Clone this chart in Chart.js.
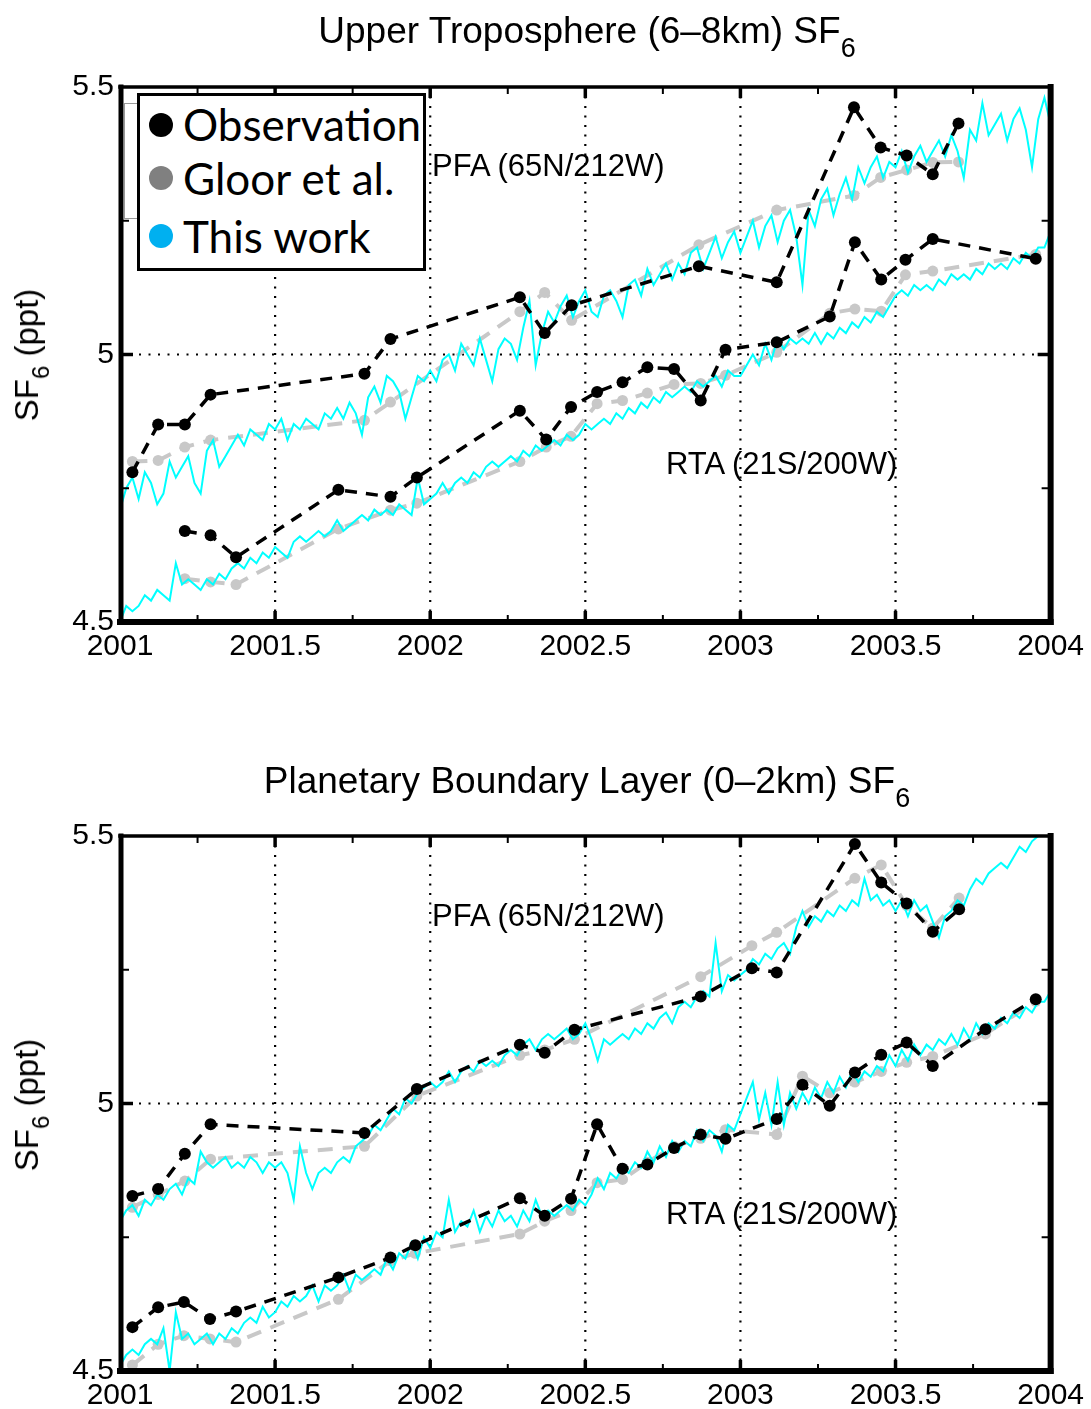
<!DOCTYPE html>
<html>
<head>
<meta charset="utf-8">
<script src="https://cdn.jsdelivr.net/npm/chart.js@4.4.1/dist/chart.umd.min.js"></script>
<style>
  html, body { margin: 0; padding: 0; background: #fff; }
  #page { position: relative; width: 1091px; height: 1409px; overflow: hidden;
          font-family: "Liberation Sans", Arial, sans-serif; color: #000; }
  .panel { position: absolute; left: 0; width: 1091px; height: 660px; }
  .title { position: absolute; transform: translateX(-50%); white-space: nowrap;
           font-size: 37px; line-height: 37px; }
  .title .sub { position: relative; top: 14px; font-size: 27px; }
  .ylab { position: absolute; white-space: nowrap; font-size: 33px; line-height: 33px;
          transform: translate(-50%, -50%) rotate(-90deg); }
  .ylab .sub { position: relative; top: 11px; font-size: 24px; }
  .note { position: absolute; white-space: nowrap; font-size: 31px; line-height: 31px; }
  #ghost { position: absolute; left: 124px; top: 103px; width: 30px; height: 114px;
           border: 1.5px solid #999; background: #fff; }
  #legend { position: absolute; left: 137px; top: 93px; width: 289px; height: 178px;
            box-sizing: border-box; border: 3px solid #000; background: #fff;
            font-family: Lato, "Open Sans", sans-serif; font-size: 44px; }
  #legend .dot { position: absolute; left: 9px; width: 24px; height: 24px; border-radius: 50%; }
  #legend .lab { position: absolute; left: 43px; height: 44px; line-height: 44px; white-space: nowrap; }
</style>
</head>
<body>
<div id="page">
  <div class="panel" style="top:0"><canvas id="upperChart" width="1091" height="660"></canvas></div>
  <div class="panel" style="top:749px"><canvas id="pblChart" width="1091" height="660"></canvas></div>

  <div class="title" style="left:587px; top:12px">Upper Troposphere (6–8km) SF<span class="sub">6</span></div>
  <div class="title" style="left:587px; top:762px">Planetary Boundary Layer (0–2km) SF<span class="sub">6</span></div>

  <div class="ylab" style="left:28px; top:355px">SF<span class="sub">6</span> (ppt)</div>
  <div class="ylab" style="left:28px; top:1105px">SF<span class="sub">6</span> (ppt)</div>

  <div class="note" style="left:432px; top:150px">PFA (65N/212W)</div>
  <div class="note" style="left:666px; top:448px">RTA (21S/200W)</div>
  <div class="note" style="left:432px; top:900px">PFA (65N/212W)</div>
  <div class="note" style="left:666px; top:1198px">RTA (21S/200W)</div>

  <div id="ghost"></div>
  <div id="legend">
    <div class="dot" style="top:17px; background:#000"></div>
    <div class="lab" style="top:6px">Observation</div>
    <div class="dot" style="top:70px; background:#808080"></div>
    <div class="lab" style="top:60px">Gloor et al.</div>
    <div class="dot" style="top:128px; background:#00b0f0"></div>
    <div class="lab" style="top:118px">This work</div>
  </div>
</div>

<script>
// axis ticks
const xTicks = [2001, 2001.5, 2002, 2002.5, 2003, 2003.5, 2004];
const xMinorTicks = [2001.25, 2001.75, 2002.25, 2002.75, 2003.25, 2003.75];
const yTicks = [4.5, 5, 5.5];
const yMinorTicks = [4.75, 5.25];

// ---- Upper troposphere, PFA ----
const utPfaObsT = [2001.04, 2001.123, 2001.209, 2001.292, 2001.788, 2001.872, 2002.289, 2002.369, 2002.456, 2002.866, 2003.117, 2003.366, 2003.452, 2003.536, 2003.62, 2003.703];
const utPfaObsV = [4.780, 4.869, 4.869, 4.925, 4.964, 5.029, 5.107, 5.040, 5.092, 5.165, 5.135, 5.462, 5.387, 5.372, 5.337, 5.432];
const utPfaGloorT = [2001.04, 2001.123, 2001.209, 2001.292, 2001.788, 2001.872, 2002.289, 2002.369, 2002.456, 2002.866, 2003.117, 2003.366, 2003.452, 2003.536, 2003.62, 2003.703];
const utPfaGloorV = [4.800, 4.802, 4.827, 4.840, 4.877, 4.911, 5.080, 5.116, 5.064, 5.205, 5.270, 5.297, 5.331, 5.345, 5.359, 5.360];

// ---- Upper troposphere, RTA ----
const utRtaObsT = [2001.209, 2001.292, 2001.374, 2001.704, 2001.872, 2001.957, 2002.289, 2002.374, 2002.454, 2002.538, 2002.62, 2002.70, 2002.786, 2002.872, 2002.952, 2003.117, 2003.288, 2003.369, 2003.454, 2003.532, 2003.62, 2003.952];
const utRtaObsV = [4.670, 4.662, 4.621, 4.747, 4.734, 4.770, 4.895, 4.841, 4.902, 4.930, 4.948, 4.976, 4.973, 4.914, 5.009, 5.023, 5.071, 5.210, 5.140, 5.177, 5.216, 5.179];
const utRtaGloorT = [2001.209, 2001.292, 2001.374, 2001.704, 2001.872, 2001.957, 2002.289, 2002.374, 2002.454, 2002.538, 2002.62, 2002.70, 2002.786, 2002.872, 2002.952, 2003.117, 2003.288, 2003.369, 2003.454, 2003.532, 2003.62, 2003.952];
const utRtaGloorV = [4.581, 4.575, 4.570, 4.674, 4.709, 4.722, 4.800, 4.827, 4.847, 4.908, 4.914, 4.928, 4.944, 4.946, 4.961, 5.004, 5.077, 5.085, 5.081, 5.149, 5.156, 5.187];

// ---- Boundary layer, PFA ----
const pblPfaObsT = [2001.04, 2001.123, 2001.209, 2001.292, 2001.788, 2001.957, 2002.289, 2002.369, 2002.465, 2002.872, 2003.037, 2003.117, 2003.369, 2003.454, 2003.536, 2003.62, 2003.705];
const pblPfaObsV = [4.827, 4.840, 4.906, 4.961, 4.945, 5.027, 5.110, 5.095, 5.138, 5.200, 5.253, 5.245, 5.485, 5.413, 5.374, 5.321, 5.363];
const pblPfaGloorT = [2001.04, 2001.123, 2001.209, 2001.292, 2001.788, 2001.957, 2002.289, 2002.369, 2002.465, 2002.872, 2003.037, 2003.117, 2003.369, 2003.454, 2003.536, 2003.62, 2003.705];
const pblPfaGloorV = [4.806, 4.830, 4.855, 4.896, 4.920, 5.014, 5.090, 5.100, 5.120, 5.237, 5.295, 5.320, 5.421, 5.446, 5.370, 5.328, 5.384];

// ---- Boundary layer, RTA ----
const pblRtaObsT = [2001.04, 2001.123, 2001.206, 2001.29, 2001.374, 2001.704, 2001.872, 2001.952, 2002.289, 2002.369, 2002.454, 2002.538, 2002.62, 2002.70, 2002.786, 2002.872, 2002.952, 2003.117, 2003.20, 2003.288, 2003.369, 2003.454, 2003.536, 2003.62, 2003.79, 2003.952];
const pblRtaObsV = [4.582, 4.619, 4.629, 4.597, 4.611, 4.675, 4.712, 4.735, 4.823, 4.790, 4.822, 4.961, 4.878, 4.886, 4.917, 4.942, 4.934, 4.971, 5.035, 4.996, 5.058, 5.091, 5.114, 5.070, 5.139, 5.195];
const pblRtaGloorT = [2001.04, 2001.123, 2001.206, 2001.29, 2001.374, 2001.704, 2001.872, 2001.952, 2002.289, 2002.369, 2002.454, 2002.538, 2002.62, 2002.70, 2002.786, 2002.872, 2002.952, 2003.117, 2003.20, 2003.288, 2003.369, 2003.454, 2003.536, 2003.62, 2003.79, 2003.952];
const pblRtaGloorV = [4.511, 4.550, 4.566, 4.560, 4.554, 4.634, 4.706, 4.720, 4.756, 4.780, 4.800, 4.852, 4.858, 4.890, 4.920, 4.935, 4.951, 4.942, 5.051, 5.020, 5.040, 5.060, 5.077, 5.088, 5.130, 5.191];

// ---- "This work" model series, one value every 0.02 yr from 2001.00 ----
const modelStart = 2001;
const modelStep = 0.02;
const utPfaModel = [
  4.71, 4.75, 4.77, 4.73, 4.78, 4.76, 4.72, 4.74, 4.80, 4.77,
  4.79, 4.81, 4.76, 4.74, 4.82, 4.84, 4.79, 4.81, 4.83, 4.85,
  4.83, 4.86, 4.85, 4.84, 4.87, 4.86, 4.88, 4.84, 4.87, 4.86,
  4.88, 4.87, 4.86, 4.89, 4.88, 4.90, 4.88, 4.91, 4.89, 4.85,
  4.92, 4.94, 4.91, 4.96, 4.95, 4.93, 4.88, 4.92, 4.96, 4.95,
  4.97, 4.95, 4.99, 5.00, 4.97, 5.02, 5.00, 4.98, 5.03, 4.99,
  4.95, 5.01, 5.03, 5.02, 4.99, 5.05, 5.10, 4.98, 5.04, 5.08,
  5.06, 5.09, 5.11, 5.07, 5.10, 5.12, 5.08, 5.07, 5.11, 5.12,
  5.10, 5.07, 5.13, 5.14, 5.11, 5.16, 5.13, 5.15, 5.17, 5.14,
  5.17, 5.15, 5.19, 5.20, 5.16, 5.19, 5.22, 5.18, 5.21, 5.23,
  5.19, 5.22, 5.25, 5.20, 5.24, 5.26, 5.21, 5.25, 5.27, 5.22,
  5.13, 5.27, 5.24, 5.29, 5.31, 5.26, 5.30, 5.33, 5.29, 5.35,
  5.32, 5.35, 5.37, 5.33, 5.36, 5.35, 5.38, 5.34, 5.37, 5.39,
  5.36, 5.38, 5.40, 5.37, 5.41, 5.38, 5.33, 5.42, 5.40, 5.47,
  5.41, 5.43, 5.45, 5.40, 5.44, 5.46, 5.42, 5.35, 5.44, 5.48,
  5.43
];
const utRtaModel = [
  4.50, 4.53, 4.52, 4.53, 4.55, 4.54, 4.56, 4.55, 4.54, 4.61,
  4.57, 4.58, 4.57, 4.56, 4.58, 4.57, 4.59, 4.58, 4.60, 4.61,
  4.60, 4.62, 4.61, 4.63, 4.62, 4.64, 4.63, 4.62, 4.65, 4.66,
  4.65, 4.66, 4.67, 4.66, 4.67, 4.69, 4.67, 4.68, 4.69, 4.70,
  4.69, 4.71, 4.70, 4.71, 4.70, 4.72, 4.71, 4.70, 4.77, 4.72,
  4.73, 4.74, 4.76, 4.74, 4.76, 4.77, 4.76, 4.78, 4.77, 4.79,
  4.80, 4.79, 4.80, 4.81, 4.80, 4.82, 4.81, 4.83, 4.82, 4.83,
  4.84, 4.83, 4.85, 4.84, 4.85, 4.87, 4.86, 4.87, 4.88, 4.87,
  4.89, 4.88, 4.90, 4.89, 4.91, 4.90, 4.92, 4.91, 4.93, 4.92,
  4.93, 4.94, 4.93, 4.95, 4.94, 4.95, 4.96, 4.94, 4.97, 4.96,
  4.96, 4.98, 5.00, 4.98, 5.02, 4.99, 5.03, 5.01, 5.03, 5.02,
  5.03, 5.02, 5.04, 5.02, 5.04, 5.03, 5.05, 5.04, 5.06, 5.05,
  5.07, 5.06, 5.08, 5.07, 5.09, 5.11, 5.12, 5.11, 5.13, 5.12,
  5.13, 5.12, 5.14, 5.13, 5.15, 5.14, 5.15, 5.14, 5.16, 5.15,
  5.17, 5.16, 5.17, 5.16, 5.18, 5.17, 5.19, 5.18, 5.20, 5.20,
  5.23
];
const pblPfaModel = [
  4.78, 4.80, 4.81, 4.79, 4.82, 4.81, 4.83, 4.82, 4.84, 4.85,
  4.83, 4.86, 4.85, 4.91, 4.89, 4.88, 4.89, 4.90, 4.88, 4.89,
  4.88, 4.90, 4.89, 4.87, 4.89, 4.88, 4.89, 4.87, 4.82, 4.92,
  4.87, 4.84, 4.87, 4.88, 4.87, 4.89, 4.90, 4.89, 4.92, 4.93,
  4.94, 4.96, 4.95, 4.97, 4.99, 4.98, 5.01, 5.00, 5.02, 5.03,
  5.04, 5.03, 5.04, 5.06, 5.04, 5.06, 5.07, 5.06, 5.08, 5.07,
  5.08, 5.07, 5.09, 5.10, 5.09, 5.11, 5.12, 5.10, 5.12, 5.13,
  5.12, 5.13, 5.14, 5.12, 5.13, 5.15, 5.12, 5.08, 5.12, 5.11,
  5.12, 5.13, 5.12, 5.14, 5.13, 5.15, 5.14, 5.16, 5.17, 5.15,
  5.18, 5.19, 5.18, 5.20, 5.21, 5.20, 5.30, 5.21, 5.24, 5.23,
  5.24, 5.25, 5.27, 5.26, 5.28, 5.27, 5.29, 5.30, 5.28, 5.33,
  5.36, 5.33, 5.35, 5.34, 5.36, 5.35, 5.37, 5.36, 5.38, 5.37,
  5.42, 5.38, 5.39, 5.37, 5.38, 5.36, 5.38, 5.35, 5.38, 5.36,
  5.37, 5.34, 5.31, 5.35, 5.36, 5.38, 5.37, 5.40, 5.42, 5.41,
  5.43, 5.44, 5.45, 5.44, 5.46, 5.48, 5.47, 5.49, 5.50, 5.51,
  5.50
];
const pblRtaModel = [
  4.51, 4.53, 4.54, 4.53, 4.55, 4.56, 4.55, 4.58, 4.50, 4.61,
  4.56, 4.57, 4.55, 4.56, 4.57, 4.55, 4.57, 4.56, 4.58, 4.57,
  4.59, 4.60, 4.59, 4.62, 4.60, 4.61, 4.63, 4.62, 4.64, 4.63,
  4.64, 4.66, 4.63, 4.66, 4.65, 4.66, 4.68, 4.65, 4.68, 4.67,
  4.68, 4.69, 4.68, 4.71, 4.69, 4.72, 4.71, 4.74, 4.71, 4.75,
  4.73, 4.76, 4.75, 4.82, 4.76, 4.78, 4.77, 4.80, 4.76, 4.79,
  4.77, 4.80, 4.78, 4.79, 4.77, 4.80, 4.78, 4.82, 4.79, 4.80,
  4.79, 4.80, 4.81, 4.80, 4.82, 4.81, 4.83, 4.86, 4.84, 4.87,
  4.86, 4.88, 4.87, 4.89, 4.88, 4.91, 4.89, 4.92, 4.90, 4.93,
  4.91, 4.93, 4.92, 4.95, 4.93, 4.95, 4.94, 4.91, 4.96, 4.95,
  4.98, 5.01, 5.04, 4.97, 5.02, 4.96, 5.04, 4.96, 5.02, 4.99,
  5.02, 5.00, 5.03, 5.01, 5.04, 5.02, 5.05, 5.03, 5.06, 5.04,
  5.06, 5.05, 5.07, 5.06, 5.09, 5.07, 5.10, 5.08, 5.11, 5.09,
  5.11, 5.10, 5.12, 5.11, 5.13, 5.11, 5.14, 5.12, 5.15, 5.13,
  5.15, 5.14, 5.16, 5.15, 5.17, 5.16, 5.18, 5.17, 5.19, 5.19,
  5.21
];

function pairs(ts, vs) {
  return ts.map((t, i) => ({ x: t, y: vs[i] }));
}

function modelPoints(vs) {
  return vs.map((v, i) => ({ x: +(modelStart + i * modelStep).toFixed(2), y: v }));
}

function obsSet(data) {
  return { data, borderColor: '#000', backgroundColor: '#000', borderWidth: 3.5, borderDash: [12, 9],
           pointRadius: 6, pointBorderWidth: 0, pointBackgroundColor: '#000' };
}
function gloorSet(data) {
  return { data, borderColor: '#c8c8c8', backgroundColor: '#c8c8c8', borderWidth: 4, borderDash: [15, 10],
           pointRadius: 5.5, pointBorderWidth: 0, pointBackgroundColor: '#c8c8c8' };
}
function modelSet(data) {
  return { data, borderColor: '#00ffff', borderWidth: 2, pointRadius: 0, tension: 0 };
}

// grid, inward ticks and the heavy box
const framePlugin = {
  id: 'frame',
  beforeDatasetsDraw(chart) {
    const { ctx, chartArea: a, scales: { x, y } } = chart;
    ctx.save();
    ctx.strokeStyle = '#000';
    ctx.lineWidth = 2.2;
    ctx.setLineDash([2, 7.5]);
    xTicks.slice(1, -1).forEach(v => {
      const px = x.getPixelForValue(v);
      ctx.beginPath(); ctx.moveTo(px, a.top); ctx.lineTo(px, a.bottom); ctx.stroke();
    });
    yTicks.slice(1, -1).forEach(v => {
      const py = y.getPixelForValue(v);
      ctx.beginPath(); ctx.moveTo(a.left, py); ctx.lineTo(a.right, py); ctx.stroke();
    });
    ctx.restore();
  },
  afterDatasetsDraw(chart) {
    const { ctx, chartArea: a, scales: { x, y } } = chart;
    ctx.save();
    ctx.strokeStyle = '#000';
    ctx.setLineDash([]);
    const tick = (x1, y1, x2, y2, w) => {
      ctx.lineWidth = w;
      ctx.beginPath(); ctx.moveTo(x1, y1); ctx.lineTo(x2, y2); ctx.stroke();
    };
    xTicks.slice(1, -1).forEach(v => {
      const px = x.getPixelForValue(v);
      tick(px, a.bottom, px, a.bottom - 11, 3.5);
      tick(px, a.top, px, a.top + 11, 3.5);
    });
    xMinorTicks.forEach(v => {
      const px = x.getPixelForValue(v);
      tick(px, a.bottom, px, a.bottom - 7, 2);
      tick(px, a.top, px, a.top + 7, 2);
    });
    yTicks.slice(1, -1).forEach(v => {
      const py = y.getPixelForValue(v);
      tick(a.left, py, a.left + 13, py, 3.5);
      tick(a.right, py, a.right - 13, py, 3.5);
    });
    yMinorTicks.forEach(v => {
      const py = y.getPixelForValue(v);
      tick(a.left, py, a.left + 9, py, 2);
      tick(a.right, py, a.right - 9, py, 2);
    });
    ctx.lineCap = 'square';
    tick(a.left, a.top, a.right, a.top, 3.5);
    tick(a.left, a.bottom, a.right, a.bottom, 6);
    tick(a.left + 1, a.top, a.left + 1, a.bottom, 5);
    tick(a.right, a.top, a.right, a.bottom, 6);
    ctx.restore();
  }
};

function fmt(v) {
  return String(Number(v.toFixed(1)));
}

function makePanel(canvasId, datasets) {
  const tickFont = { family: '"Liberation Sans", Arial, sans-serif', size: 30 };
  return new Chart(document.getElementById(canvasId).getContext('2d'), {
    type: 'line',
    data: { datasets },
    options: {
      responsive: false,
      animation: false,
      devicePixelRatio: 1,
      layout: { padding: { left: 0, right: 36, top: 87, bottom: 0 } },
      plugins: { legend: { display: false }, tooltip: { enabled: false } },
      scales: {
        x: {
          type: 'linear', min: 2001, max: 2004,
          grid: { display: false, drawTicks: false },
          border: { display: false },
          ticks: { color: '#000', font: tickFont, padding: 7, autoSkip: false, maxRotation: 0, callback: fmt },
          afterBuildTicks: s => { s.ticks = xTicks.map(v => ({ value: v })); },
          afterFit: s => { s.height = 38; }
        },
        y: {
          type: 'linear', min: 4.5, max: 5.5,
          grid: { display: false, drawTicks: false },
          border: { display: false },
          ticks: { color: '#000', font: tickFont, padding: 6, callback: fmt },
          afterBuildTicks: s => { s.ticks = yTicks.map(v => ({ value: v })); },
          afterFit: s => { s.width = 120; }
        }
      }
    },
    plugins: [framePlugin]
  });
}

makePanel('upperChart', [
  obsSet(pairs(utPfaObsT, utPfaObsV)),
  obsSet(pairs(utRtaObsT, utRtaObsV)),
  modelSet(modelPoints(utPfaModel)),
  modelSet(modelPoints(utRtaModel)),
  gloorSet(pairs(utPfaGloorT, utPfaGloorV)),
  gloorSet(pairs(utRtaGloorT, utRtaGloorV))
]);

makePanel('pblChart', [
  obsSet(pairs(pblPfaObsT, pblPfaObsV)),
  obsSet(pairs(pblRtaObsT, pblRtaObsV)),
  modelSet(modelPoints(pblPfaModel)),
  modelSet(modelPoints(pblRtaModel)),
  gloorSet(pairs(pblPfaGloorT, pblPfaGloorV)),
  gloorSet(pairs(pblRtaGloorT, pblRtaGloorV))
]);
</script>
</body>
</html>
